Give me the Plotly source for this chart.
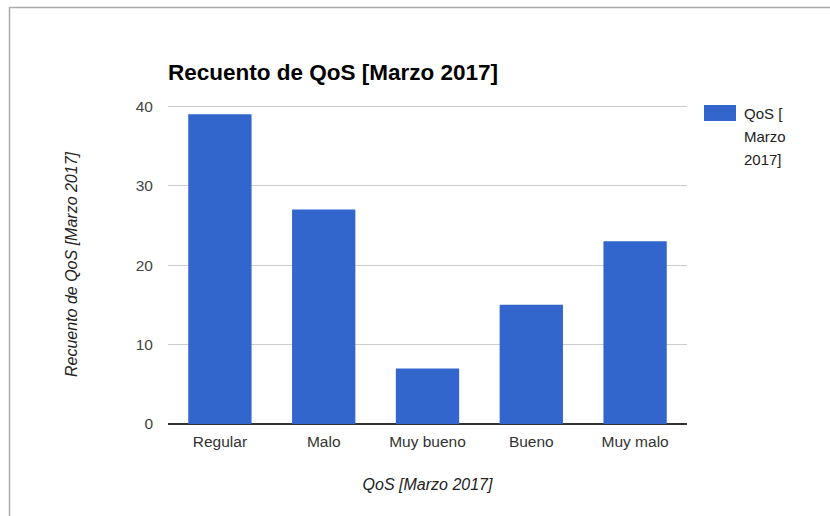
import plotly.graph_objects as go

# QoS counts for March 2017
categories = ["Regular", "Malo", "Muy bueno", "Bueno", "Muy malo"]
counts = [39, 27, 7, 15, 23]
y_ticks = [0, 10, 20, 30, 40]
series_name = "QoS [Marzo 2017]"
legend_lines = ["QoS [", "Marzo", "2017]"]

BAR = "#3366cc"
FONT = "Arial, Liberation Sans, sans-serif"

W, H = 830, 516
L, R, T, B = 168, 143, 105, 92
pw, ph = W - L - R, H - T - B


def px_x(p):
    return (p - L) / pw


def px_y(p):
    return (H - B - p) / ph


fig = go.Figure(
    go.Bar(
        x=categories,
        y=counts,
        name=series_name,
        marker=dict(color=BAR, line=dict(width=0)),
        showlegend=False,
    )
)

shapes = [
    # outer frame (top and left edges)
    dict(type="line", xref="paper", yref="paper",
         x0=px_x(9), x1=px_x(W + 5), y0=px_y(7.5), y1=px_y(7.5),
         line=dict(color="#aaaaaa", width=1.5)),
    dict(type="line", xref="paper", yref="paper",
         x0=px_x(9.5), x1=px_x(9.5), y0=px_y(7), y1=px_y(H + 5),
         line=dict(color="#aaaaaa", width=1.5)),
    # legend swatch
    dict(type="rect", xref="paper", yref="paper",
         x0=px_x(704), x1=px_x(736), y0=px_y(105), y1=px_y(121),
         fillcolor=BAR, line=dict(width=0)),
]

# legend text, one line per annotation for even spacing
annotations = [
    dict(xref="paper", yref="paper", x=px_x(742), y=px_y(113 + 23 * i),
         xanchor="left", yanchor="middle", align="left",
         text=line, showarrow=False,
         font=dict(family=FONT, size=15, color="#222222"))
    for i, line in enumerate(legend_lines)
]

fig.update_layout(
    width=W, height=H,
    margin=dict(l=L, r=R, t=T, b=B, autoexpand=False),
    paper_bgcolor="white", plot_bgcolor="white",
    font=dict(family=FONT, size=15, color="#444444"),
    bargap=0.39,
    title=dict(text="<b>Recuento de QoS [Marzo 2017]</b>",
               xref="paper", x=0, xanchor="left",
               yref="container", y=1 - 72 / H, yanchor="middle",
               font=dict(family=FONT, size=22.5, color="#000000")),
    xaxis=dict(
        showgrid=False, showline=False, ticks="",
        tickfont=dict(size=15.5, color="#333333"),
        ticklabelstandoff=6,
        title=dict(text="<i>QoS [Marzo 2017]</i>", standoff=30,
                   font=dict(size=16, color="#222222")),
        automargin=False,
    ),
    yaxis=dict(
        range=[0, 40.15], tickvals=y_ticks,
        showgrid=True, gridcolor="#cccccc", gridwidth=1,
        zeroline=True, zerolinecolor="#333333", zerolinewidth=1.5,
        showline=False, ticks="", ticklabelstandoff=14,
        tickfont=dict(size=15.5, color="#444444"),
        title=dict(text="<i>Recuento de QoS [Marzo 2017]</i>", standoff=54,
                   font=dict(size=16, color="#222222")),
        automargin=False,
    ),
    shapes=shapes,
    annotations=annotations,
)

fig.write_html("out.html")
